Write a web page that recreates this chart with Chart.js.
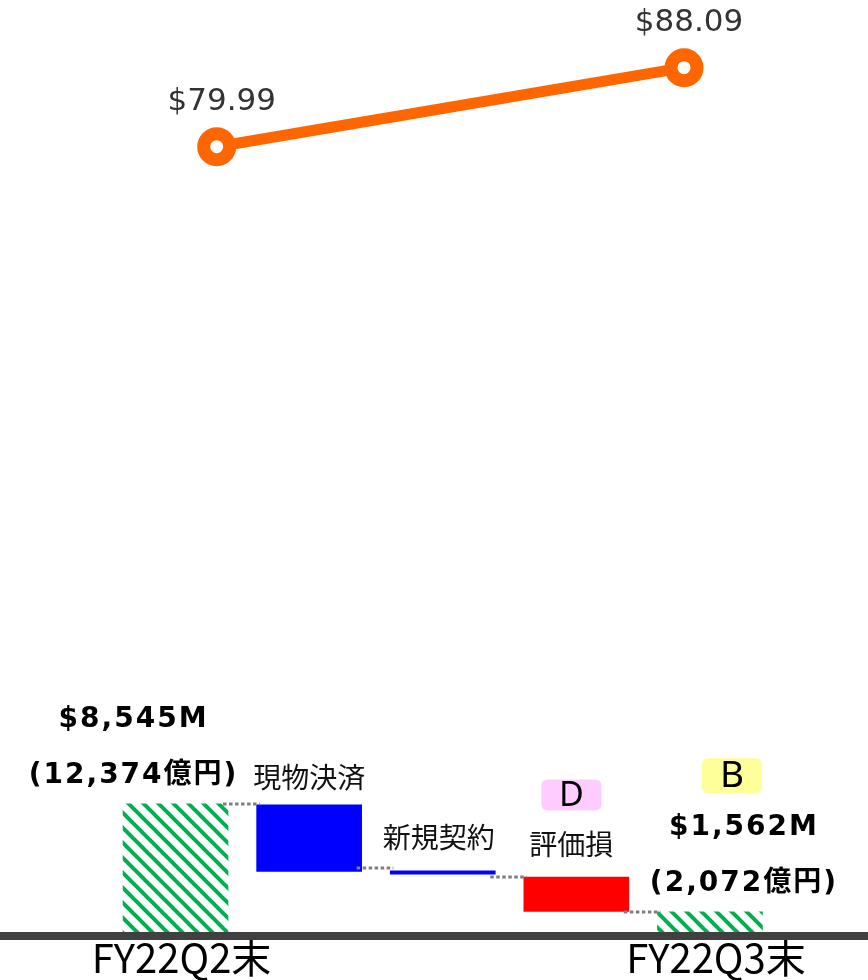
<!DOCTYPE html>
<html>
<head>
<meta charset="utf-8">
<script src="https://cdn.jsdelivr.net/npm/chart.js"></script>
<style>
	html, body { margin: 0; padding: 0; background: #fff; }
	#grafico { display: block; }
</style>
</head>
<body>
<canvas id="grafico" width="868" height="980"></canvas>
<script>
/* Dados do gráfico */
var categorias = ['FY22Q2末', '現物決済', '新規契約', '評価損', 'FY22Q3末'];
var barraInicio = [0, 4171, 4000, 1584, 0];
var barraFim = [8545, 8480, 4215, 3808, 1562];
var conectores = [8545, 4397, 3808, 1571];

var precoTrimestres = ['FY22Q2末', 'FY22Q3末'];
var precoValores = [79.99, 88.09];
var precoTextos = ['$79.99', '$88.09'];

var saldoUsd = ['$8,545M', '$1,562M'];
var saldoJpy = ['(12,374億円)', '(2,072億円)'];
var saldoIndice = [0, 4];

var notas = ['D', 'B'];
var notaIndice = [3, 4];

/* Hachurado verde */
function criarHachura() {
	var c = document.createElement('canvas');
	c.width = 15; c.height = 15;
	var g = c.getContext('2d');
	g.fillStyle = '#ffffff';
	g.fillRect(0, 0, 15, 15);
	g.strokeStyle = '#00B050';
	g.lineWidth = 4;
	for (var k = -1; k <= 1; k++) {
		g.beginPath();
		g.moveTo(k * 15 - 3, -3);
		g.lineTo(k * 15 + 18, 18);
		g.stroke();
	}
	return g.createPattern(c, 'repeat');
}

var hachura = criarHachura();
var coresBarras = [hachura, '#0000FF', '#0000FF', '#FF0000', hachura];

var dadosBarras = categorias.map(function(nome, i) {
	return { x: i, y: [barraInicio[i], barraFim[i]] };
});
var dadosPreco = precoValores.map(function(v, i) {
	return { x: i, y: v };
});

/* Textos, conectores e notas */
var anotacoes = {
	id: 'anotacoes',
	afterDatasetsDraw: function(chart) {
		var ctx = chart.ctx;
		var barras = chart.getDatasetMeta(0).data;
		var linha = chart.getDatasetMeta(1).data;
		var y = chart.scales.y;

		ctx.save();

		// linhas pontilhadas entre as barras
		ctx.strokeStyle = '#7F7F7F';
		ctx.lineWidth = 3;
		ctx.setLineDash([3.5, 2.5]);
		conectores.forEach(function(nivel, i) {
			var a = barras[i], b = barras[i + 1];
			var py = Math.round(y.getPixelForValue(nivel));
			ctx.beginPath();
			ctx.moveTo(a.x + a.width / 2 - 5, py);
			ctx.lineTo(b.x - b.width / 2 + 3, py);
			ctx.stroke();
		});
		ctx.setLineDash([]);

		// preço
		ctx.fillStyle = '#333333';
		ctx.font = '31px "DejaVu Sans"';
		ctx.textAlign = 'center';
		ctx.textBaseline = 'alphabetic';
		linha.forEach(function(p, i) {
			ctx.fillText(precoTextos[i], p.x + 5, p.y - 37);
		});

		// nomes das barras do meio
		ctx.fillStyle = '#111111';
		ctx.font = '28px "Noto Sans CJK JP"';
		ctx.textBaseline = 'middle';
		var dx = [0, 0, -4, -5, 0];
		var dy = [0, -27, -33, -33, 0];
		for (var i = 1; i <= 3; i++) {
			var b = barras[i];
			ctx.fillText(categorias[i], b.x + dx[i], b.y + dy[i]);
		}

		// saldos
		ctx.fillStyle = '#000000';
		ctx.font = 'bold 28px "DejaVu Sans", "Noto Sans CJK JP"';
		ctx.letterSpacing = '2px';
		ctx.textBaseline = 'alphabetic';
		var saldoDx = [-42, 34];
		saldoIndice.forEach(function(idx, k) {
			var b = barras[idx];
			ctx.fillText(saldoUsd[k], b.x + saldoDx[k], b.y - 77);
			ctx.fillText(saldoJpy[k], b.x + saldoDx[k], b.y - 21);
		});
		ctx.letterSpacing = '0px';

		// notas
		var notaCor = ['#FFCCFF', '#FFFF99'];
		var notaDx = [-5, 22];
		var notaDy = [-82, -136];
		var notaTam = [[60, 31, 34], [60, 35, 37]];
		notaIndice.forEach(function(idx, k) {
			var b = barras[idx];
			var cx = b.x + notaDx[k], cy = b.y + notaDy[k];
			var w = notaTam[k][0], h = notaTam[k][1];
			ctx.fillStyle = notaCor[k];
			ctx.beginPath();
			ctx.roundRect(cx - w / 2, cy - h / 2, w, h, 6);
			ctx.fill();
			ctx.fillStyle = '#000000';
			ctx.font = notaTam[k][2] + 'px "Noto Sans"';
			ctx.textBaseline = 'middle';
			ctx.fillText(notas[k], cx, cy + 1);
		});

		ctx.restore();
	}
};

var grafico = new Chart(document.getElementById('grafico').getContext('2d'), {
	data: {
		datasets: [{
			type: 'bar',
			data: dadosBarras,
			backgroundColor: coresBarras,
			borderWidth: 0,
			barThickness: 105,
			grouped: false,
			xAxisID: 'x',
			yAxisID: 'y'
		}, {
			type: 'line',
			data: dadosPreco,
			borderColor: '#FF6600',
			borderWidth: 11,
			pointRadius: 13,
			pointBorderWidth: 13,
			pointBackgroundColor: '#ffffff',
			pointBorderColor: '#FF6600',
			xAxisID: 'x2',
			yAxisID: 'y2'
		}]
	},
	options: {
		responsive: false,
		animation: false,
		layout: { padding: 0, autoPadding: false },
		plugins: {
			legend: { display: false },
			tooltip: { enabled: false }
		},
		scales: {
			x: {
				type: 'linear',
				position: 'bottom',
				offset: false,
				min: -1.314,
				max: 5.183,
				grid: { display: false, drawTicks: false, offset: false },
				border: { display: true, color: '#404040', width: 8, z: 1 },
				afterBuildTicks: function(axis) {
					axis.ticks = [{ value: 0 }, { value: 4 }];
				},
				ticks: {
					autoSkip: false,
					maxRotation: 0,
					padding: 0,
					labelOffset: 6,
					color: '#000000',
					font: { family: '"Noto Sans CJK JP"', size: 40, lineHeight: 1.1 },
					callback: function(v) { return categorias[v]; }
				}
			},
			y: {
				display: false,
				min: 0,
				max: 60500
			},
			x2: {
				type: 'linear',
				display: false,
				offset: false,
				min: -0.4637,
				max: 1.3937
			},
			y2: {
				display: false,
				min: -0.92,
				max: 95.03
			}
		}
	},
	plugins: [anotacoes]
});
</script>
</body>
</html>
